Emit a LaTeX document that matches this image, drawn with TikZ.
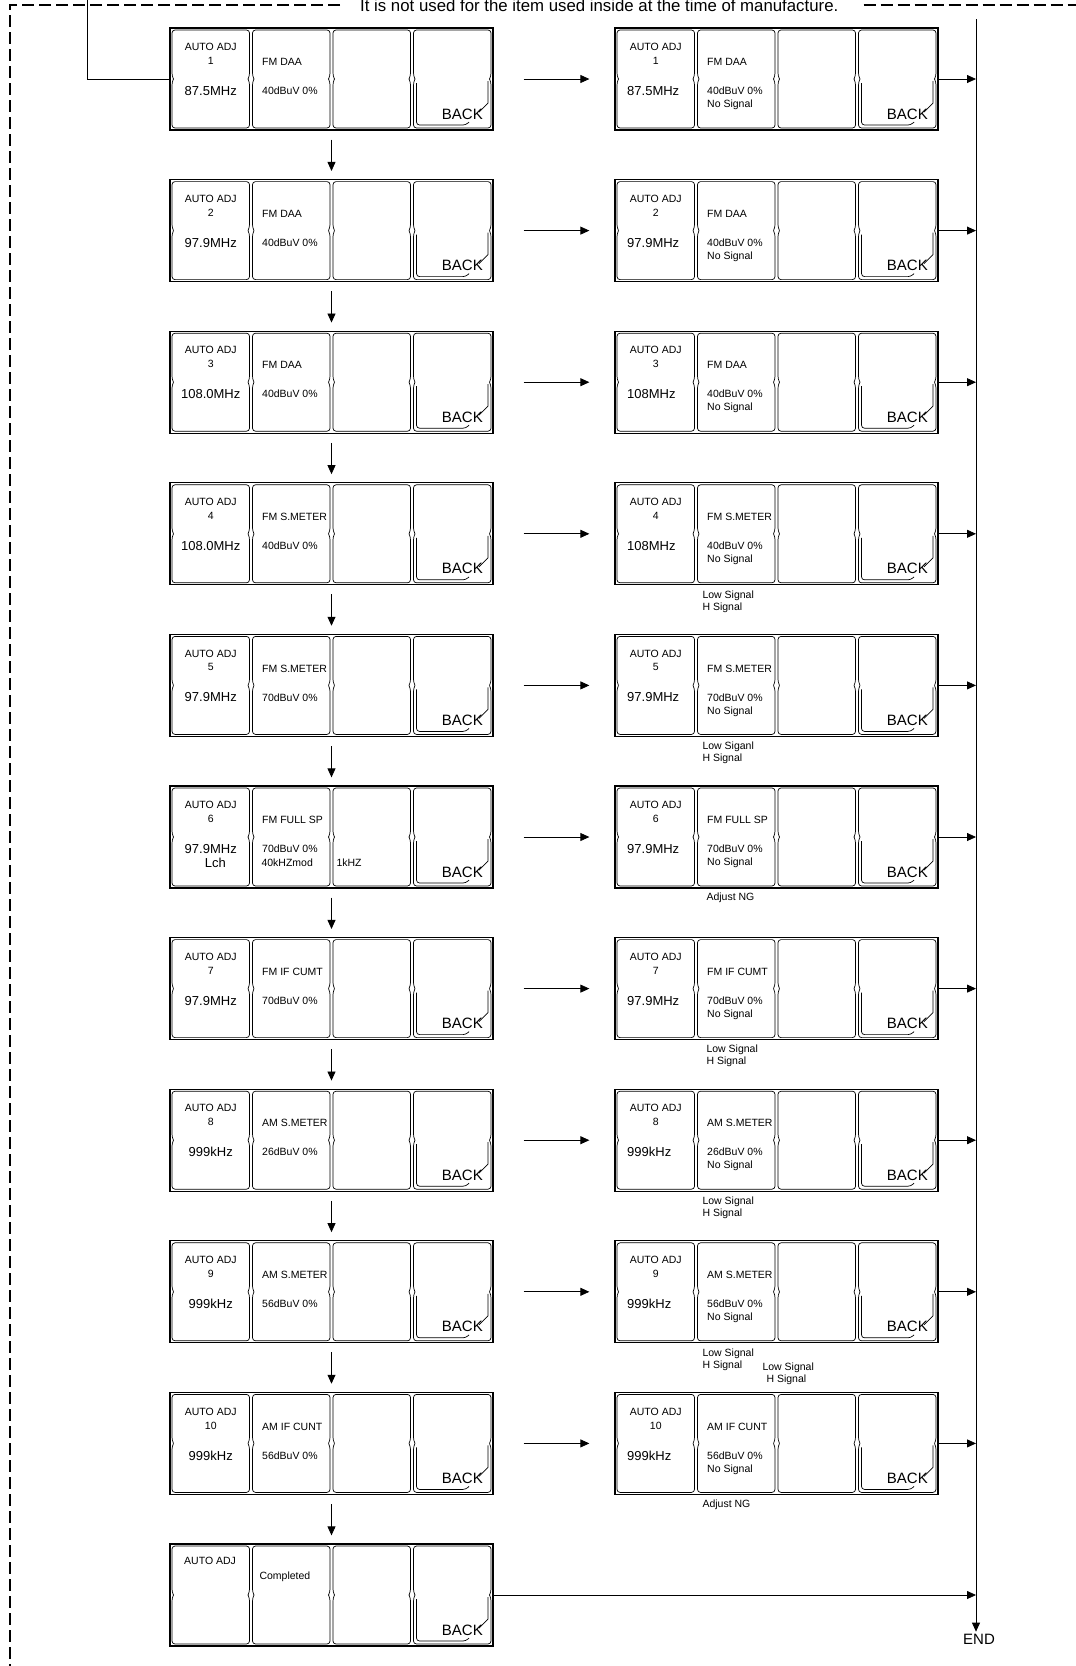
\documentclass[tikz,border=0pt]{standalone}
\usepackage{fontspec}
\setmainfont{Liberation Sans}
\usetikzlibrary{arrows.meta}

% one display panel: #1 name, #2 left x, #3 top y
\newcommand{\adjpanel}[3]{%
  \begin{scope}[shift={(#2,#3)}]
    \node[panelbox] (#1) at (161.5,51) {};
    \foreach \c in {0,1,2,3} {
      \pgfmathsetmacro{\xl}{2+80.5*\c}
      \pgfmathsetmacro{\xr}{\xl+77.5}
      \draw[cellline] (\xl+1.5,51) -- (\xl,48) -- (\xl,2) -- (\xr,2) -- (\xr,48) -- (\xr-1.5,51);
      \draw[cellline] (\xl+1.5,51) -- (\xl,54) -- (\xl,100) -- (\xr,100) -- (\xr,54) -- (\xr-1.5,51);
    }
    % back key
    \draw[cellline] (246.5,55) -- (246.5,97) -- (296,97) -- (299,94);
    \draw[cellline,rounded corners=0pt] (318,53) -- (318,75) -- (309,84);
    \node[backtxt] (#1-back) at (313,86) {BACK};
  \end{scope}}

% left column: #1 name, #2 top y, #3 step, #4 frequency, #5 mode, #6 level
\newcommand{\leftadj}[6]{%
  \adjpanel{#1}{170}{#2}
  \begin{scope}[shift={(170,#2)}]
    \node[smalltxt] (#1-a) at (40.75,19) {AUTO ADJ};
    \node[smalltxt] (#1-n) at (40.75,33) {#3};
    \node[freqtxt] (#1-f) at (40.75,63) {#4};
    \node[smalltxt,anchor=west] (#1-m) at (92,34) {#5};
    \node[smalltxt,anchor=west] (#1-v) at (92,63) {#6};
  \end{scope}}

% right column: same, with No Signal
\newcommand{\rightadj}[6]{%
  \adjpanel{#1}{615}{#2}
  \begin{scope}[shift={(615,#2)}]
    \node[smalltxt] (#1-a) at (40.75,19) {AUTO ADJ};
    \node[smalltxt] (#1-n) at (40.75,33) {#3};
    \node[freqtxt,anchor=west] (#1-f) at (12,63) {#4};
    \node[smalltxt,anchor=west] (#1-m) at (92,34) {#5};
    \node[smalltxt,anchor=west] (#1-v) at (92,63) {#6};
    \node[smalltxt,anchor=west] (#1-s) at (92,77) {No Signal};
  \end{scope}}

\begin{document}
\begin{tikzpicture}[x=1pt,y=-1pt,
  panelbox/.style={draw,line width=1.3pt,minimum width=323pt,minimum height=102pt,inner sep=0pt},
  cellline/.style={line width=0.7pt,rounded corners=3pt},
  smalltxt/.style={font=\fontsize{10.5}{12}\selectfont,inner sep=0pt},
  freqtxt/.style={font=\fontsize{13}{15}\selectfont,inner sep=0pt},
  backtxt/.style={font=\fontsize{15}{17}\selectfont,inner sep=0pt,anchor=east},
  notetxt/.style={font=\fontsize{16.8}{18}\selectfont,inner sep=0pt,anchor=base west},
  arr/.style={line width=0.8pt,-{Triangle[length=9pt,width=8pt]}},
  dashline/.style={line width=1.2pt,dash pattern=on 12pt off 5pt}]
\useasboundingbox (0,0) rectangle (1076,1666);

% Note and dashed frame
\node[notetxt] (note) at (360,11.5) {It is not used for the item used inside at the time of manufacture.};
\coordinate (frame) at (10,5);
\draw[dashline] ([xshift=-20pt]note.west |- frame) -- (frame) -- (10,1670);
\draw[dashline] ([xshift=25pt]note.east |- frame) -- (1080,5);

% Panels
\leftadj{L1}{28}{1}{87.5MHz}{FM DAA}{40dBuV 0\%}
\rightadj{R1}{28}{1}{87.5MHz}{FM DAA}{40dBuV 0\%}
\leftadj{L2}{179.6}{2}{97.9MHz}{FM DAA}{40dBuV 0\%}
\rightadj{R2}{179.6}{2}{97.9MHz}{FM DAA}{40dBuV 0\%}
\leftadj{L3}{331.2}{3}{108.0MHz}{FM DAA}{40dBuV 0\%}
\rightadj{R3}{331.2}{3}{108MHz}{FM DAA}{40dBuV 0\%}
\leftadj{L4}{482.8}{4}{108.0MHz}{FM S.METER}{40dBuV 0\%}
\rightadj{R4}{482.8}{4}{108MHz}{FM S.METER}{40dBuV 0\%}
\leftadj{L5}{634.4}{5}{97.9MHz}{FM S.METER}{70dBuV 0\%}
\rightadj{R5}{634.4}{5}{97.9MHz}{FM S.METER}{70dBuV 0\%}
\leftadj{L6}{786}{6}{97.9MHz}{FM FULL SP}{70dBuV 0\%}
\rightadj{R6}{786}{6}{97.9MHz}{FM FULL SP}{70dBuV 0\%}
\leftadj{L7}{937.6}{7}{97.9MHz}{FM IF CUMT}{70dBuV 0\%}
\rightadj{R7}{937.6}{7}{97.9MHz}{FM IF CUMT}{70dBuV 0\%}
\leftadj{L8}{1089.2}{8}{999kHz}{AM S.METER}{26dBuV 0\%}
\rightadj{R8}{1089.2}{8}{999kHz}{AM S.METER}{26dBuV 0\%}
\leftadj{L9}{1240.8}{9}{999kHz}{AM S.METER}{56dBuV 0\%}
\rightadj{R9}{1240.8}{9}{999kHz}{AM S.METER}{56dBuV 0\%}
\leftadj{L10}{1392.4}{10}{999kHz}{AM IF CUNT}{56dBuV 0\%}
\rightadj{R10}{1392.4}{10}{999kHz}{AM IF CUNT}{56dBuV 0\%}

% Step 6 extras
\node[freqtxt] (L6-l) at ([xshift=46pt,yshift=-77pt]L6.north west) {Lch};
\node[smalltxt,anchor=west] (L6-mod) at ([xshift=92pt,yshift=-77pt]L6.north west) {40kHZmod};
\node[smalltxt,anchor=west] (L6-k) at ([xshift=167pt,yshift=-77pt]L6.north west) {1kHZ};

% Completed
\adjpanel{L11}{170}{1544}
\node[smalltxt] (L11-a) at ([xshift=40.75pt,yshift=-18pt]L11.north west) {AUTO ADJ};
\node[smalltxt,anchor=west] (L11-m) at ([xshift=90pt,yshift=-33pt]L11.north west) {Completed};

% Results under the panels
\node[smalltxt,anchor=west] (R4-lo) at ([xshift=88pt,yshift=-10pt]R4.south west) {Low Signal};
\node[smalltxt,anchor=west] (R4-hi) at ([xshift=88pt,yshift=-22pt]R4.south west) {H Signal};
\node[smalltxt,anchor=west] (R5-lo) at ([xshift=88pt,yshift=-10pt]R5.south west) {Low Siganl};
\node[smalltxt,anchor=west] (R5-hi) at ([xshift=88pt,yshift=-22pt]R5.south west) {H Signal};
\node[smalltxt,anchor=west] (R6-ng) at ([xshift=92pt,yshift=-9pt]R6.south west) {Adjust NG};
\node[smalltxt,anchor=west] (R7-lo) at ([xshift=92pt,yshift=-10pt]R7.south west) {Low Signal};
\node[smalltxt,anchor=west] (R7-hi) at ([xshift=92pt,yshift=-22pt]R7.south west) {H Signal};
\node[smalltxt,anchor=west] (R8-lo) at ([xshift=88pt,yshift=-10pt]R8.south west) {Low Signal};
\node[smalltxt,anchor=west] (R8-hi) at ([xshift=88pt,yshift=-22pt]R8.south west) {H Signal};
\node[smalltxt,anchor=west] (R9-lo) at ([xshift=88pt,yshift=-10pt]R9.south west) {Low Signal};
\node[smalltxt,anchor=west] (R9-hi) at ([xshift=88pt,yshift=-22pt]R9.south west) {H Signal};
\node[smalltxt,anchor=west] (R9-lo2) at ([xshift=148pt,yshift=-24pt]R9.south west) {Low Signal};
\node[smalltxt,anchor=west] (R9-hi2) at ([xshift=152pt,yshift=-36pt]R9.south west) {H Signal};
\node[smalltxt,anchor=west] (R10-ng) at ([xshift=88pt,yshift=-10pt]R10.south west) {Adjust NG};

% Feed line from the note
\coordinate (feed) at (87,-2);
\draw[line width=0.8pt] (feed) |- (L1.west);

% Left column steps
\foreach \a/\b in {L1/L2,L2/L3,L3/L4,L4/L5,L5/L6,L6/L7,L7/L8,L8/L9,L9/L10,L10/L11}
  \draw[arr] ([yshift=-9pt]\a.south) -- ([yshift=8pt]\b.north);

% Across to the results
\foreach \r in {1,...,10}
  \draw[arr] ([xshift=30pt]L\r.east) -- ([xshift=-25pt]R\r.west);

% Return line and END
\coordinate (spine) at (976,19);
\node[backtxt,anchor=center] (end) at (979,1639) {END};
\draw[arr] (spine) -- ([yshift=2pt]spine |- end.north);
\foreach \r in {1,...,10}
  \draw[arr] (R\r.east) -- (R\r.east -| spine);
\draw[arr] (L11.east) -- (L11.east -| spine);

\end{tikzpicture}
\end{document}
